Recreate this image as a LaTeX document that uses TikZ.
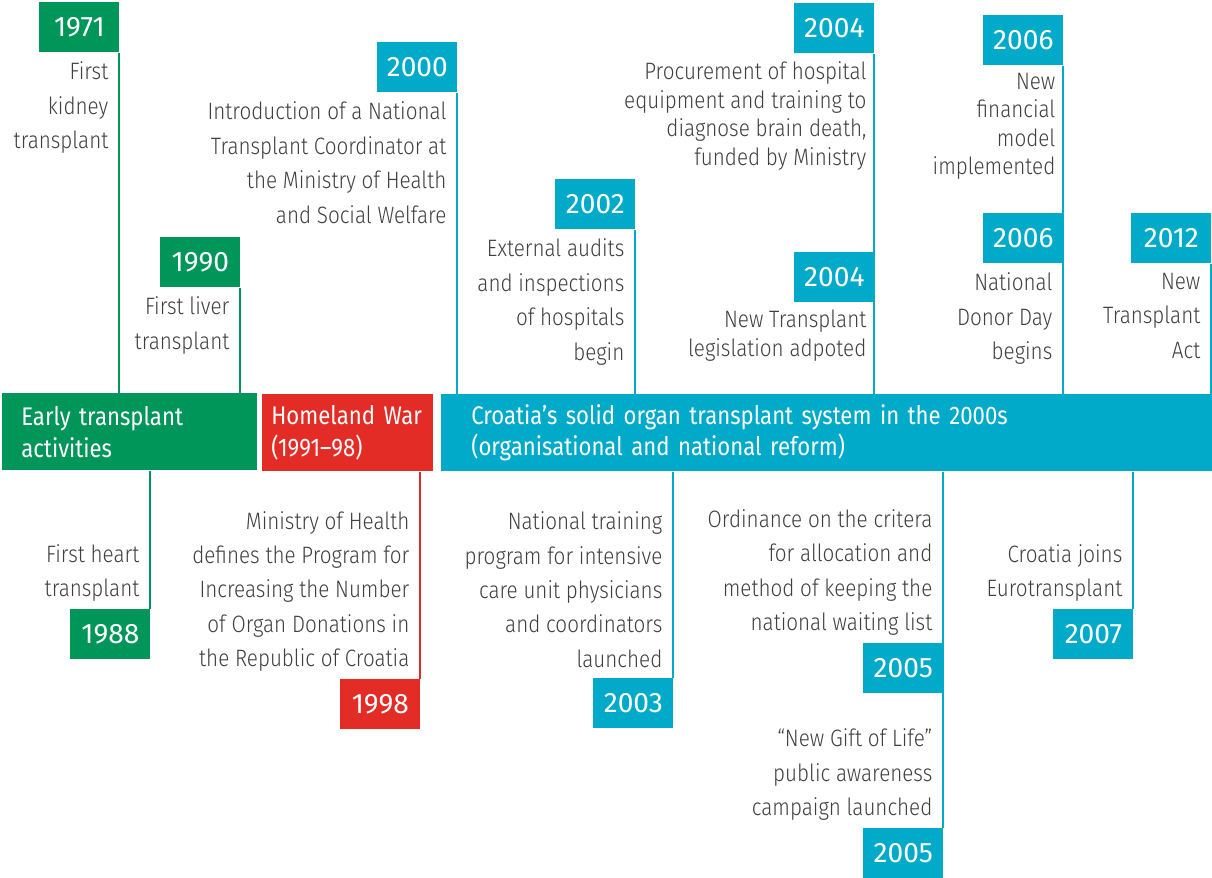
\documentclass[tikz,border=0pt]{standalone}
\usepackage{fontspec}
\setmainfont{Fira Sans Light}[FakeStretch=0.87]
\newfontfamily\headfont{Fira Sans}[FakeStretch=0.87]
\newfontfamily\yearfont{Fira Sans}
\usetikzlibrary{positioning}

\definecolor{tgreen}{HTML}{00965A}
\definecolor{tred}{HTML}{E32C25}
\definecolor{tblue}{HTML}{00AAC8}
\definecolor{tgrey}{HTML}{3F3F3F}

\begin{document}
\begin{tikzpicture}[
  x=0.02cm, y=-0.02cm,
  year/.style={rectangle, fill=#1, text=white, inner sep=0pt, minimum width=1.6cm, minimum height=1cm,
    anchor=north west, font=\yearfont\fontsize{16}{18}\selectfont},
  event/.style={align=right, inner sep=0pt, text=tgrey, font=\fontsize{13.5}{19.6}\selectfont},
  tight/.style={font=\fontsize{13.5}{16.2}\selectfont},
  era/.style={rectangle, fill=#1, text=white, inner ysep=0pt, minimum height=1.54cm,
    anchor=north west, align=left, font=\headfont\fontsize{14.5}{18.1}\selectfont},
  stem/.style={draw=#1, line width=1.2pt, transform canvas={xshift=-0.6pt}}
]
\useasboundingbox (0,0) rectangle (1212,877);

% periods
\node[era=tgreen, minimum width=5.1cm, inner xsep=0.38cm, text width=4.34cm] (early) at (2,393)
  {Early transplant\\activities};
\node[era=tred, minimum width=3.42cm, inner xsep=0.18cm, text width=3.06cm] (war) at (262,394)
  {Homeland War\\(1991–98)};
\node[era=tblue, minimum width=15.42cm, inner xsep=0.6cm, text width=14.22cm] (reform) at (441,394)
  {Croatia’s solid organ transplant system in the 2000s\\(organisational and national reform)};

% years above the periods
\node[year=tgreen] (y1971) at (39,2) {1971};
\node[year=tgreen] (y1990) at (160,237) {1990};
\node[year=tblue] (y2000) at (377,42) {2000};
\node[year=tblue] (y2002) at (555,179) {2002};
\node[year=tblue] (y2004a) at (794,3) {2004};
\node[year=tblue] (y2004b) at (794,252) {2004};
\node[year=tblue] (y2006a) at (983,15) {2006};
\node[year=tblue] (y2006b) at (983,213) {2006};
\node[year=tblue] (y2012) at (1131,213) {2012};

% years below the periods
\node[year=tgreen] (y1988) at (70,609) {1988};
\node[year=tred] (y1998) at (340,679) {1998};
\node[year=tblue] (y2003) at (593,678) {2003};
\node[year=tblue] (y2005a) at (863,643) {2005};
\node[year=tblue] (y2005b) at (863,828) {2005};
\node[year=tblue] (y2007) at (1053,609) {2007};

% stems
\draw[stem=tgreen] (y1971.south east) -- (y1971.south east |- early.north);
\draw[stem=tgreen] (y1990.south east) -- (y1990.south east |- early.north);
\draw[stem=tblue] (y2000.south east) -- (y2000.south east |- reform.north);
\draw[stem=tblue] (y2002.south east) -- (y2002.south east |- reform.north);
\draw[stem=tblue] (y2004a.south east) -- (y2004a.south east |- reform.north);
\draw[stem=tblue] (y2006a.south east) -- (y2006a.south east |- reform.north);
\draw[stem=tblue] (y2012.south east) -- (y2012.south east |- reform.north);
\draw[stem=tgreen] (y1988.north east) -- (y1988.north east |- early.south);
\draw[stem=tred] (y1998.north east) -- (y1998.north east |- war.south);
\draw[stem=tblue] (y2003.north east) -- (y2003.north east |- reform.south);
\draw[stem=tblue] (y2005b.north east) -- (y2005b.north east |- reform.south);
\draw[stem=tblue] (y2007.north east) -- (y2007.north east |- reform.south);

% events above
\node[event, below left=0.18cm and 0.22cm of y1971.south east] (t1971) {First\\kidney\\transplant};
\node[event, below left=0.18cm and 0.22cm of y1990.south east] (t1990) {First liver\\transplant};
\node[event, below left=0.18cm and 0.22cm of y2000.south east] (t2000)
  {Introduction of a National\\Transplant Coordinator at\\the Ministry of Health\\and Social Welfare};
\node[event, below left=0.18cm and 0.22cm of y2002.south east] (t2002)
  {External audits\\and inspections\\of hospitals\\begin};
\node[event, tight, below left=0.16cm and 0.16cm of y2004a.south east] (t2004a)
  {Procurement of hospital\\equipment and training to\\diagnose brain death,\\funded by Ministry};
\node[event, tight, below left=0.14cm and 0.16cm of y2004b.south east] (t2004b)
  {New Transplant\\legislation adpoted};
\node[event, tight, below left=0.14cm and 0.16cm of y2006a.south east] (t2006a)
  {New\\financial\\model\\implemented};
\node[event, below left=0.18cm and 0.22cm of y2006b.south east] (t2006b) {National\\Donor Day\\begins};
\node[event, below left=0.18cm and 0.22cm of y2012.south east] (t2012) {New\\Transplant\\Act};

% events below
\node[event, above left=0.14cm and 0.22cm of y1988.north east] (t1988) {First heart\\transplant};
\node[event, above left=0.14cm and 0.22cm of y1998.north east] (t1998)
  {Ministry of Health\\defines the Program for\\Increasing the Number\\of Organ Donations in\\the Republic of Croatia};
\node[event, above left=0.2cm and 0.22cm of y2003.north east] (t2003)
  {National training\\program for intensive\\care unit physicians\\and coordinators\\launched};
\node[event, above left=0.14cm and 0.22cm of y2005a.north east] (t2005a)
  {Ordinance on the critera\\for allocation and\\method of keeping the\\national waiting list};
\node[event, above left=0.14cm and 0.22cm of y2005b.north east] (t2005b)
  {“New Gift of Life”\\public awareness\\campaign launched};
\node[event, above left=0.14cm and 0.22cm of y2007.north east] (t2007) {Croatia joins\\Eurotransplant};
\end{tikzpicture}
\end{document}
